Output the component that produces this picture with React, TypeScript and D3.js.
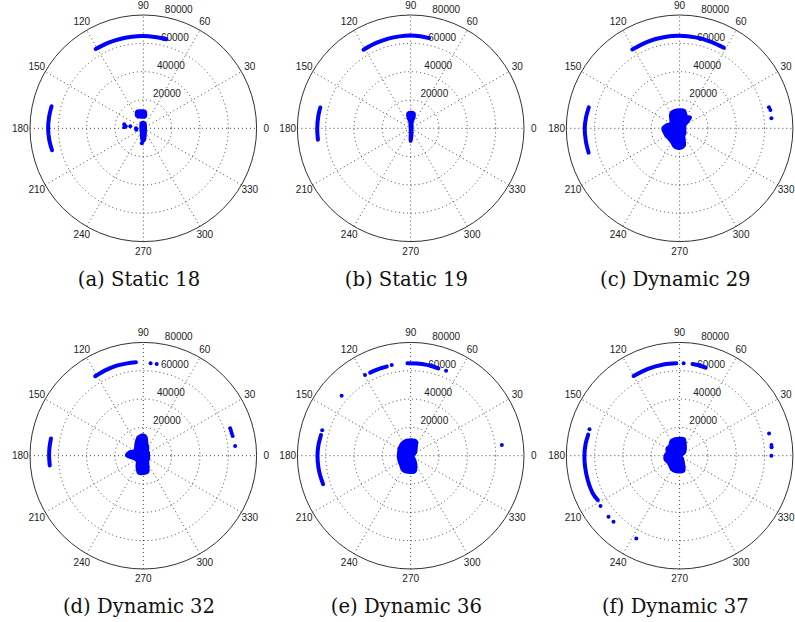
import React from 'react';
import * as d3 from 'd3';

type Pt = [number, number]; // [angle in degrees, range]

const rangeMax = 80000;
const ringTicks = [20000, 40000, 60000, 80000];
const angleTicks = [0, 30, 60, 90, 120, 150, 180, 210, 240, 270, 300, 330];
const captions = ['(a) Static 18', '(b) Static 19', '(c) Dynamic 29', '(d) Dynamic 32', '(e) Dynamic 36', '(f) Dynamic 37'];

// ---------- (a) Static 18 ----------
const aTracks: Pt[][] = [
  [[121, 65300], [112, 65300], [104, 65200], [97, 65200], [90, 65100], [83, 65000], [75.5, 65000]],
  [[166.5, 66600], [173, 67000], [180, 67200], [187, 66900], [193.5, 66300]],
];
const aClusters: Pt[][] = [
  [[110.9, 12870], [96.5, 12450], [83.3, 12100], [79.9, 10050], [80.1, 8250], [100.3, 7900], [118.4, 9650]],
  [[110, 4140], [74.7, 4030], [291.8, 3810], [274.8, 8510], [265.6, 9220], [248.2, 3810]],
];
const aPoints: Pt[] = [[168, 13730], [177, 13450], [173.5, 12450], [171.3, 9300], [180, 5160], [192, 5060], [264.3, 10650]];

// ---------- (b) Static 19 ----------
const bTracks: Pt[][] = [
  [[121, 64700], [112, 65000], [104, 65300], [97, 65400], [90, 65500], [84, 65300], [78.5, 65000]],
  [[167, 65500], [172, 65800], [180, 66000], [187, 66000]],
];
const bClusters: Pt[][] = [
  [[100, 10990], [77.8, 11070], [72.6, 7780], [77.1, 5080], [284.6, 3650], [271.3, 9050], [268.2, 9050], [265.4, 3550], [98.9, 5010], [104.4, 7660]],
];
const bPoints: Pt[] = [];

// ---------- (c) Dynamic 29 ----------
const cTracks: Pt[][] = [
  [[121, 64900], [110, 65200], [100, 65300], [90, 65300], [80, 65200], [70, 65000], [61.2, 64900]],
  [[167, 65800], [173, 66500], [180, 67000], [188, 66800], [195, 66500]],
];
const cClusters: Pt[][] = [
  [[0, 3680], [15, 3820], [30, 4380], [45, 10960], [60, 9830], [75, 13080], [90, 13080], [105, 13080], [120, 12370], [135, 8840], [150, 7070], [165, 9540], [180, 11880], [195, 11310], [210, 10960], [225, 10600], [240, 11310], [255, 13790], [270, 14280], [285, 12730], [300, 6010], [315, 5300], [330, 4380], [345, 3820]],
];
const cPoints: Pt[] = [[13.2, 64800], [11.4, 65400], [6.2, 65200]];

// ---------- (d) Dynamic 32 ----------
const dTracks: Pt[][] = [
  [[121.2, 65600], [113, 66000], [106.5, 66300], [100, 66200], [94.5, 66200]],
  [[169.4, 66300], [175, 66500], [180, 66500], [186, 66400]],
];
const dClusters: Pt[][] = [
  [[0, 3680], [15, 3890], [30, 4240], [45, 4240], [60, 6360], [75, 9540], [82, 13500], [90, 14700], [98, 14300], [105, 13790], [120, 10250], [135, 7780], [150, 7070], [165, 10250], [180, 11880], [195, 7420], [210, 6010], [225, 6010], [240, 8840], [255, 12730], [270, 12580], [285, 12020], [300, 6360], [315, 4600], [330, 4380], [345, 3890]],
];
const dPoints: Pt[] = [[85.5, 65500], [81.7, 65500], [17.5, 64300], [15.8, 64400], [14.2, 64400], [12.5, 64600], [6, 65200]];

// ---------- (e) Dynamic 36 ----------
const eTracks: Pt[][] = [
  [[116, 65300], [113, 65300], [110, 65300], [107, 65200], [105, 65200]],
  [[92, 65300], [86, 65200], [80, 65100], [75.5, 64900], [72.4, 64700]],
  [[167, 65000], [174, 65600], [180, 65800], [187, 65700], [193, 65400], [198, 65000]],
];
const eClusters: Pt[][] = [
  [[0, 1770], [15, 2470], [30, 3890], [45, 5300], [60, 8130], [67, 10700], [75, 11310], [90, 11310], [105, 11310], [120, 10960], [135, 10250], [150, 9540], [165, 8840], [180, 8840], [195, 8840], [210, 9190], [225, 9900], [240, 11670], [255, 12020], [270, 11880], [285, 11670], [300, 7420], [315, 3890], [330, 2190], [345, 1840]],
];
const ePoints: Pt[] = [[119.5, 65500], [101.8, 65500], [67.4, 65000], [139, 64600], [6.7, 64800], [164, 65000]];

// ---------- (f) Dynamic 37 ----------
const fTracks: Pt[][] = [
  [[120, 65000], [110, 65300], [100, 65400], [92, 65300]],
  [[82, 65400], [78, 65300], [73.5, 64800]],
  [[167, 66200], [173, 66900], [180, 67200], [187, 67200], [195, 67100], [203.5, 66800], [208.5, 65700]],
];
const fClusters: Pt[][] = [
  [[0, 1060], [15, 1410], [30, 3890], [45, 5660], [60, 8130], [75, 12370], [90, 12370], [105, 12370], [120, 12020], [135, 9900], [150, 10250], [165, 9190], [180, 10250], [195, 10600], [210, 9540], [225, 9900], [240, 11310], [255, 11670], [270, 11450], [285, 11310], [300, 5300], [315, 2830], [330, 1410], [345, 1060]],
];
const fPoints: Pt[] = [[87.5, 65300], [14, 65100], [6.7, 65300], [5.2, 65200], [0, 64800], [163.7, 66300], [212.5, 66200], [220.7, 66200], [225, 66000], [242.4, 66000]];

const panels = [
  { caption: captions[0], tracks: aTracks, clusters: aClusters, points: aPoints },
  { caption: captions[1], tracks: bTracks, clusters: bClusters, points: bPoints },
  { caption: captions[2], tracks: cTracks, clusters: cClusters, points: cPoints },
  { caption: captions[3], tracks: dTracks, clusters: dClusters, points: dPoints },
  { caption: captions[4], tracks: eTracks, clusters: eClusters, points: ePoints },
  { caption: captions[5], tracks: fTracks, clusters: fClusters, points: fPoints },
];

const WIDTH = 795;
const HEIGHT = 622;
const colX = [143.3, 410.7, 679.6];
const rowY = [128.3, 455.7];
const R = 113.3;
const LABEL_R = 123;
const BLUE = '#0000ff';
const INK = '#1c1c1c';
const sans = '"Liberation Sans", Arial, Helvetica, sans-serif';
const serif = '"DejaVu Serif", serif';

const rad = (deg: number) => (deg * Math.PI) / 180;

function PolarPanel({ cx, cy, panel }: { cx: number; cy: number; panel: typeof panels[number] }) {
  const r = d3.scaleLinear().domain([0, rangeMax]).range([0, R]);
  const trackGen = d3.lineRadial<Pt>().angle((d) => rad(90 - d[0])).radius((d) => r(d[1])).curve(d3.curveCatmullRom);
  const clusterGen = d3.lineRadial<Pt>().angle((d) => rad(90 - d[0])).radius((d) => r(d[1])).curve(d3.curveCatmullRomClosed);
  const spokes = angleTicks.filter((a) => a < 180);
  const c82 = Math.cos(rad(82));
  const s82 = Math.sin(rad(82));
  const rinc = ringTicks[1] - ringTicks[0];
  // angle labels that would fall entirely outside the page are not drawn (as in the reference)
  const visibleAngles = angleTicks.filter((a) => cx + LABEL_R * Math.cos(rad(a)) - 4 < WIDTH);
  return (
    <g transform={`translate(${cx},${cy})`}>
      <circle r={r(rangeMax)} fill="#fff" />
      {ringTicks.slice(0, -1).map((t) => (
        <circle key={t} r={r(t)} fill="none" stroke={INK} strokeWidth={1} strokeDasharray="1 3" opacity={0.8} />
      ))}
      {spokes.map((a) => (
        <line key={a} x1={-R * Math.cos(rad(a))} y1={R * Math.sin(rad(a))} x2={R * Math.cos(rad(a))} y2={-R * Math.sin(rad(a))}
          stroke={INK} strokeWidth={1} strokeDasharray="1 3" opacity={0.8} />
      ))}
      <circle r={r(rangeMax)} fill="none" stroke={INK} strokeWidth={1} opacity={0.9} />
      {visibleAngles.map((a) => (
        <text key={a} x={LABEL_R * Math.cos(rad(a))} y={-LABEL_R * Math.sin(rad(a))} dy="0.36em" textAnchor="middle"
          fontFamily={sans} fontSize={10} fill={INK}>{a}</text>
      ))}
      {ringTicks.map((t) => (
        <text key={t} x={r(t + rinc / 20) * c82 + 5.6} y={-r(t + rinc / 20) * s82 - 2.2} textAnchor="start"
          fontFamily={sans} fontSize={10} fill={INK}>{t}</text>
      ))}
      {panel.clusters.map((c, i) => (
        <path key={'c' + i} d={clusterGen(c) || ''} fill={BLUE} stroke={BLUE} strokeWidth={3} strokeLinejoin="round" />
      ))}
      {panel.tracks.map((t, i) => (
        <path key={'t' + i} d={trackGen(t) || ''} fill="none" stroke={BLUE} strokeWidth={4} strokeLinecap="round" strokeLinejoin="round" />
      ))}
      {panel.points.map((p, i) => (
        <circle key={'p' + i} cx={r(p[1]) * Math.cos(rad(p[0]))} cy={-r(p[1]) * Math.sin(rad(p[0]))} r={2} fill={BLUE} />
      ))}
    </g>
  );
}

export default function App() {
  return (
    <svg width={WIDTH} height={HEIGHT} viewBox={`0 0 ${WIDTH} ${HEIGHT}`} style={{ position: 'absolute', left: 0, top: 0, background: '#fff' }}>
      <rect width={WIDTH} height={HEIGHT} fill="#fff" />
      {panels.map((p, i) => {
        const cx = colX[i % 3];
        const cy = rowY[Math.floor(i / 3)];
        return (
          <g key={i}>
            <PolarPanel cx={cx} cy={cy} panel={p} />
            <text x={cx - 4.3} y={cy + 157.7} textAnchor="middle" fontFamily={serif} fontSize={19.6} fill="#111">{p.caption}</text>
          </g>
        );
      })}
    </svg>
  );
}
